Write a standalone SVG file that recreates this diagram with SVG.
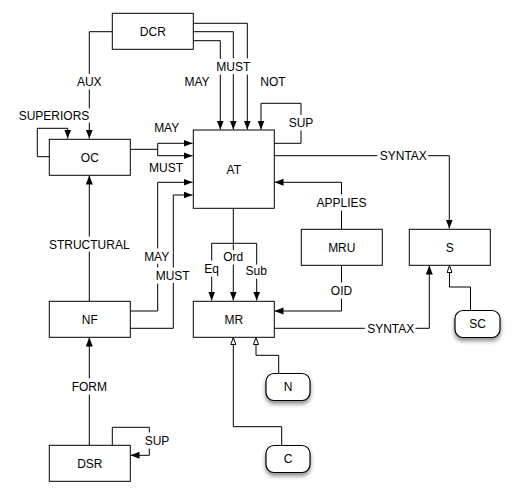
<svg xmlns="http://www.w3.org/2000/svg" width="516" height="494" viewBox="0 0 516 494">
<style>
.box{fill:#fff;stroke:#000;stroke-width:1}
.rnd{fill:#fff;stroke:#000;stroke-width:1.2}
.c{fill:none;stroke:#000;stroke-width:1}
text{font-family:"Liberation Sans",Arial,sans-serif;font-size:12px;fill:#000;text-anchor:middle}
.lbl{stroke:#fff;stroke-width:7;stroke-linejoin:round;paint-order:stroke}
</style>
<defs>
<marker id="af" markerUnits="userSpaceOnUse" markerWidth="10" markerHeight="8" refX="9" refY="3.5" orient="auto"><path d="M0,0 L9,3.5 L0,7 z" fill="#000"/></marker>
<marker id="ah" markerUnits="userSpaceOnUse" markerWidth="9" markerHeight="7" refX="7.5" refY="3" orient="auto"><path d="M0.5,0.5 L7.5,3 L0.5,5.5 z" fill="#fff" stroke="#000" stroke-width="1"/></marker>
<filter id="sh" x="-30%" y="-30%" width="160%" height="180%"><feDropShadow dx="0" dy="3" stdDeviation="2.2" flood-color="#000" flood-opacity="0.45"/></filter>
</defs>
<g id="connectors">
<path class="c" d="M112,31.7 H89.3 V138.5" marker-end="url(#af)"/>
<path class="c" d="M193,40.7 H220.3 V129.5" marker-end="url(#af)"/>
<path class="c" d="M193,31.7 H233.3 V129.5" marker-end="url(#af)"/>
<path class="c" d="M193,23.3 H247.3 V129.5" marker-end="url(#af)"/>
<path class="c" d="M274,143.3 H301 V103.3 H261 V129.5" marker-end="url(#af)"/>
<path class="c" d="M49,156.7 H37.3 V128.3 H67.7 V138.5" marker-end="url(#af)"/>
<path class="c" d="M130,149.3 H157.7 V143.3 H192.5" marker-end="url(#af)"/>
<path class="c" d="M157.7,149.3 V155.7 H192.5" marker-end="url(#af)"/>
<path class="c" d="M130,311 H157.7 V182.3 H192.5" marker-end="url(#af)"/>
<path class="c" d="M130,328.3 H173.3 V195 H192.5" marker-end="url(#af)"/>
<path class="c" d="M274,155.7 H449.3 V228.5" marker-end="url(#af)"/>
<path class="c" d="M341.5,229 V182.3 H274.5" marker-end="url(#af)"/>
<path class="c" d="M341.5,265 V311 H274.5" marker-end="url(#af)"/>
<path class="c" d="M233.3,208 V243.3 M211.7,243.3 H256.7"/>
<path class="c" d="M211.7,243.3 V300.5" marker-end="url(#af)"/>
<path class="c" d="M233.3,243.3 V300.5" marker-end="url(#af)"/>
<path class="c" d="M256.7,243.3 V300.5" marker-end="url(#af)"/>
<path class="c" d="M274,328.3 H429.3 V265.5" marker-end="url(#af)"/>
<path class="c" d="M470.5,310 V287 H449.5 V265.5" marker-end="url(#ah)"/>
<path class="c" d="M278.7,373 V355.3 H256 V337.5" marker-end="url(#ah)"/>
<path class="c" d="M281.7,445 V426.7 H233.3 V337.5" marker-end="url(#ah)"/>
<path class="c" d="M89.3,301 V175.5" marker-end="url(#af)"/>
<path class="c" d="M89.3,445 V337.5" marker-end="url(#af)"/>
<path class="c" d="M112.3,445 V427.3 H149.3 V455.3 H130.5" marker-end="url(#af)"/>
<text class="lbl" x="89.3" y="86.3">AUX</text>
<text class="lbl" x="54" y="120">SUPERIORS</text>
<text class="lbl" x="233.3" y="71.3">MUST</text>
<text class="lbl" x="197" y="86.3">MAY</text>
<text class="lbl" x="273" y="86.3">NOT</text>
<text class="lbl" x="301" y="127.3">SUP</text>
<text class="lbl" x="166.7" y="132">MAY</text>
<text class="lbl" x="166" y="171.6">MUST</text>
<text class="lbl" x="403.3" y="160">SYNTAX</text>
<text class="lbl" x="341.5" y="206.6">APPLIES</text>
<text class="lbl" x="89.3" y="248.6">STRUCTURAL</text>
<text class="lbl" x="156.7" y="261">MAY</text>
<text class="lbl" x="172.7" y="280">MUST</text>
<text class="lbl" x="233.3" y="261">Ord</text>
<text class="lbl" x="211.7" y="273.3">Eq</text>
<text class="lbl" x="256.3" y="275">Sub</text>
<text class="lbl" x="341.5" y="295">OID</text>
<text class="lbl" x="390.7" y="332.6">SYNTAX</text>
<text class="lbl" x="89.3" y="391">FORM</text>
<text class="lbl" x="157" y="445">SUP</text>
</g>
<g id="DCR"><rect class="box" x="112.3" y="13.3" width="81" height="36"/><text x="152.8" y="35.6">DCR</text></g>
<g id="OC"><rect class="box" x="49.3" y="139.3" width="81" height="36"/><text x="89.8" y="161.6">OC</text></g>
<g id="AT"><rect class="box" x="193.3" y="130" width="81" height="78.3"/><text x="233.8" y="173.5">AT</text></g>
<g id="MRU"><rect class="box" x="301.3" y="229.3" width="81" height="36"/><text x="341.8" y="251.6">MRU</text></g>
<g id="S"><rect class="box" x="409.3" y="229.3" width="81" height="36"/><text x="449.8" y="251.6">S</text></g>
<g id="NF"><rect class="box" x="49.3" y="301.3" width="81" height="36"/><text x="89.8" y="323.6">NF</text></g>
<g id="MR"><rect class="box" x="193.3" y="301.3" width="81" height="36"/><text x="233.8" y="323.6">MR</text></g>
<g id="DSR"><rect class="box" x="49.3" y="445.3" width="81" height="36"/><text x="89.8" y="467.6">DSR</text></g>
<g id="SC"><rect class="rnd" x="455" y="310.5" width="45" height="27" rx="8" filter="url(#sh)"/><text x="477.5" y="328.3">SC</text></g>
<g id="N"><rect class="rnd" x="266" y="373.5" width="44" height="27" rx="8" filter="url(#sh)"/><text x="288" y="391.3">N</text></g>
<g id="C"><rect class="rnd" x="266" y="445.5" width="44" height="27" rx="8" filter="url(#sh)"/><text x="288" y="463.3">C</text></g>
</svg>
